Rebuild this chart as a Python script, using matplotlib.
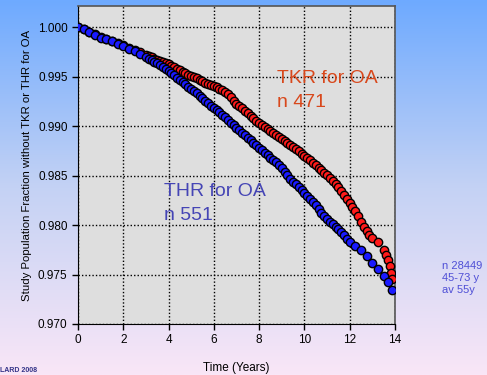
import numpy as np
import matplotlib
matplotlib.use("Agg")
import matplotlib.pyplot as plt
from matplotlib.colors import LinearSegmentedColormap

# ---- data ----
thr_t = [0.00, 0.25, 0.50, 0.75, 1.00, 1.25, 1.50, 1.75, 2.00, 2.25, 2.50, 2.75,
         3.000, 3.125, 3.250, 3.375, 3.500, 3.625, 3.750, 3.875,
         4.000, 4.125, 4.250, 4.375, 4.500, 4.625, 4.750, 4.875,
         5.000, 5.125, 5.250, 5.375, 5.500, 5.625, 5.750, 5.875,
         6.000, 6.125, 6.250, 6.375, 6.500, 6.625, 6.750, 6.875,
         7.000, 7.125, 7.250, 7.375, 7.500, 7.625, 7.750, 7.875,
         8.000, 8.125, 8.250, 8.375, 8.500, 8.625, 8.750, 8.875,
         9.000, 9.125, 9.250, 9.375, 9.500, 9.625, 9.750, 9.875,
         10.000, 10.125, 10.250, 10.375, 10.500, 10.625, 10.750, 10.875,
         11.000, 11.125, 11.250, 11.375, 11.500, 11.625, 11.750, 11.875,
         12.00, 12.25, 12.50, 12.75, 13.00, 13.25, 13.50, 13.70, 13.86]
thr_v = [1.0000, 0.9998, 0.9995, 0.9992, 0.9989, 0.9988, 0.9986, 0.9983, 0.9981,
         0.9978, 0.9976, 0.9973,
         0.9970, 0.9968, 0.9967, 0.9965, 0.9964, 0.9962, 0.9960, 0.9958,
         0.9956, 0.9954, 0.9952, 0.9949, 0.9947, 0.9945, 0.9943, 0.9940,
         0.9938, 0.9935, 0.9933, 0.9930, 0.9928, 0.9925, 0.9923, 0.9920,
         0.9918, 0.9916, 0.9914, 0.9911, 0.9909, 0.9906, 0.9903, 0.9901,
         0.9898, 0.9896, 0.9893, 0.9891, 0.9888, 0.9886, 0.9883, 0.9881,
         0.9878, 0.9876, 0.9873, 0.9871, 0.9868, 0.9866, 0.9864, 0.9861,
         0.9858, 0.9854, 0.9851, 0.9847, 0.9844, 0.9841, 0.9838, 0.9835,
         0.9832, 0.9829, 0.9826, 0.9823, 0.9820, 0.9816, 0.9812, 0.9809,
         0.9806, 0.9803, 0.9801, 0.9798, 0.9796, 0.9793, 0.9790, 0.9786,
         0.9783, 0.9779, 0.9775, 0.9769, 0.9762, 0.9756, 0.9749, 0.9742, 0.9734]

tkr_t = [0.00, 0.25, 0.50, 0.75, 1.00, 1.25, 1.50, 1.75, 2.00, 2.25, 2.50, 2.75,
         3.000, 3.125, 3.250, 3.375, 3.500, 3.625, 3.750, 3.875,
         4.000, 4.125, 4.250, 4.375, 4.500, 4.625, 4.750, 4.875,
         5.000, 5.125, 5.250, 5.375, 5.500, 5.625, 5.750, 5.875,
         6.000, 6.125, 6.250, 6.375, 6.500, 6.625, 6.750, 6.875,
         7.000, 7.125, 7.250, 7.375, 7.500, 7.625, 7.750, 7.875,
         8.000, 8.125, 8.250, 8.375, 8.500, 8.625, 8.750, 8.875,
         9.000, 9.125, 9.250, 9.375, 9.500, 9.625, 9.750, 9.875,
         10.000, 10.125, 10.250, 10.375, 10.500, 10.625, 10.750, 10.875,
         11.000, 11.125, 11.250, 11.375, 11.500, 11.625, 11.750, 11.875,
         12.000, 12.125, 12.250, 12.375, 12.500, 12.625, 12.750, 12.875,
         13.00, 13.25, 13.50, 13.60, 13.70, 13.78, 13.84, 13.88]
tkr_v = [1.0000, 0.9998, 0.9995, 0.9993, 0.9990, 0.9988, 0.9986, 0.9984, 0.9982,
         0.9979, 0.9977, 0.9975,
         0.9972, 0.9971, 0.9970, 0.9968, 0.9967, 0.9966, 0.9965, 0.9964,
         0.9963, 0.9961, 0.9960, 0.9958, 0.9957, 0.9955, 0.9954, 0.9952,
         0.9951, 0.9950, 0.9949, 0.9947, 0.9946, 0.9944, 0.9943, 0.9942,
         0.9941, 0.9940, 0.9938, 0.9936, 0.9934, 0.9932, 0.9929, 0.9925,
         0.9922, 0.9920, 0.9918, 0.9915, 0.9913, 0.9910, 0.9908, 0.9905,
         0.9903, 0.9901, 0.9899, 0.9897, 0.9895, 0.9893, 0.9891, 0.9889,
         0.9887, 0.9885, 0.9883, 0.9881, 0.9879, 0.9877, 0.9875, 0.9872,
         0.9870, 0.9868, 0.9866, 0.9863, 0.9861, 0.9858, 0.9856, 0.9853,
         0.9851, 0.9848, 0.9845, 0.9841, 0.9838, 0.9834, 0.9830, 0.9826,
         0.9822, 0.9818, 0.9814, 0.9809, 0.9803, 0.9798, 0.9794, 0.9790,
         0.9787, 0.9783, 0.9775, 0.9770, 0.9765, 0.9759, 0.9752, 0.9745]

x_ticks = [0, 2, 4, 6, 8, 10, 12, 14]
y_ticks = [0.970, 0.975, 0.980, 0.985, 0.990, 0.995, 1.000]

plt.rcParams['font.family'] = ['Liberation Sans', 'DejaVu Sans']

fig = plt.figure(figsize=(4.87, 3.75), dpi=100)

# background gradient
bg = fig.add_axes([0, 0, 1, 1], zorder=-10)
cmap = LinearSegmentedColormap.from_list(
    "bg", [(0.0, "#6eaaff"), (0.5, "#c4d2f4"), (1.0, "#f9e6f7")])
grad = np.linspace(0, 1, 256).reshape(-1, 1)
bg.imshow(grad, aspect='auto', cmap=cmap, extent=[0, 1, 0, 1], origin='upper')
bg.set_axis_off()

ax = fig.add_axes([0.160, 0.136, 0.651, 0.847])
ax.set_facecolor('#dedede')
ax.set_xlim(0, 14)
ax.set_ylim(0.970, 1.0021)
ax.set_xticks(x_ticks)
ax.set_yticks(y_ticks)
ax.set_yticklabels([f"{v:.3f}" for v in y_ticks])
ax.grid(True, color='black', linestyle=(0, (1, 1.5)), linewidth=1.0)
ax.set_axisbelow(True)
ax.tick_params(direction='out', length=4, width=1, labelsize=8.5, colors='black')
for s in ['top', 'right']:
    ax.spines[s].set_color('#555555')
    ax.spines[s].set_linewidth(1.2)
for s in ['left', 'bottom']:
    ax.spines[s].set_color('black')

ax.plot(tkr_t, tkr_v, 'o', color='#ff1a1a', markeredgecolor='black',
        markeredgewidth=1.0, markersize=6.0, zorder=3)
ax.plot(thr_t, thr_v, 'o', color='#1a1aff', markeredgecolor='black',
        markeredgewidth=1.0, markersize=6.0, zorder=4)

ax.set_xlabel("Time (Years)", fontsize=8.5, labelpad=11)
ax.set_ylabel("Study Population Fraction without TKR or THR for OA", fontsize=8.2)

tkr_color = '#d8481c'
thr_color = '#4545b5'
ax.text(8.8, 0.99434, "TKR for OA", color=tkr_color, fontsize=14,
        ha='left', va='baseline', zorder=6)
ax.text(8.8, 0.99192, "n 471", color=tkr_color, fontsize=14,
        ha='left', va='baseline', zorder=6)
ax.text(3.8, 0.98293, "THR for OA", color=thr_color, fontsize=14,
        ha='left', va='baseline', zorder=6)
ax.text(3.8, 0.98051, "n 551", color=thr_color, fontsize=14,
        ha='left', va='baseline', zorder=6)

fig.text(0.907, 0.218, "n 28449\n45-73 y\nav 55y", color='#4f4fd6',
         fontsize=8, ha='left', va='baseline', linespacing=1.25)
fig.text(0.0, 0.002, "LARD 2008", color='#333388', fontsize=5,
         fontweight='bold', ha='left', va='bottom')

fig.savefig("out.png", dpi=100)
